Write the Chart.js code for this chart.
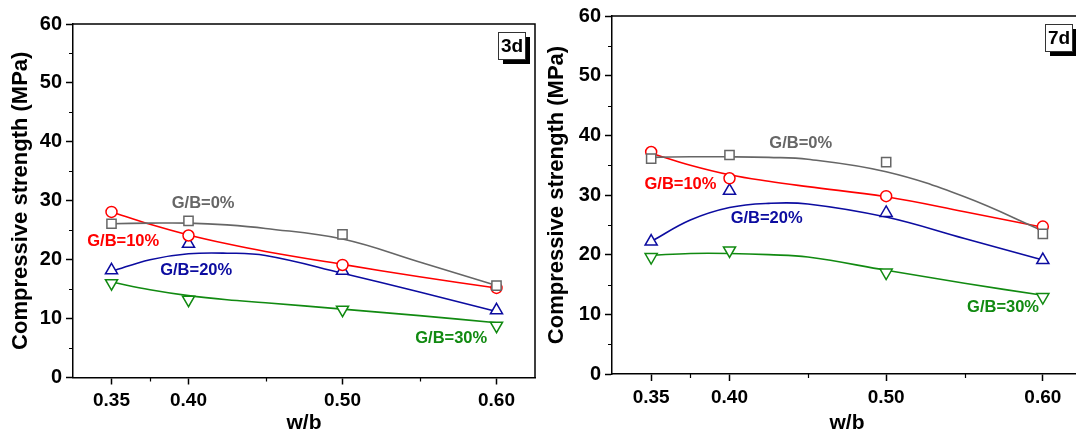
<!DOCTYPE html>
<html>
<head>
<meta charset="utf-8">
<script src="https://cdn.jsdelivr.net/npm/chart.js@4.4.1/dist/chart.umd.min.js"></script>
<style>
  html, body { margin: 0; padding: 0; background: #fff; overflow: hidden; }
  #wrap { position: relative; width: 1076px; height: 436px; overflow: hidden; }
  #c3 { position: absolute; left: 0; top: 0; }
  #c7 { position: absolute; left: 536px; top: 0; }
</style>
</head>
<body>
<div id="wrap">
  <canvas id="c3" width="536" height="436"></canvas>
  <canvas id="c7" width="548" height="436"></canvas>
</div>
<script>
// w/b ratios where the specimens were tested
const wb = [0.35, 0.40, 0.50, 0.60];
const fitX = [0.35, 0.375, 0.40, 0.425, 0.45, 0.50, 0.55, 0.60];
const xTicks = [0.35, 0.40, 0.50, 0.60];
const xMinor = [0.375, 0.45, 0.55];
const yMinor = [5, 15, 25, 35, 45, 55];
const series = ['G/B=0%', 'G/B=10%', 'G/B=20%', 'G/B=30%'];

// 3 d measured
const d3_gb0 = [26.1, 26.6, 24.3, 15.6];
const d3_gb10 = [28.1, 24.1, 19.1, 15.2];
const d3_gb20 = [18.2, 22.7, 18.1, 11.4];
const d3_gb30 = [16.0, 13.2, 11.5, 8.8];
// 3 d fitted curves
const d3_fit0 = [26.1, 26.2, 26.2, 25.9, 25.3, 23.5, 19.6, 15.6];
const d3_fit10 = [28.1, 26.0, 24.2, 22.7, 21.4, 19.2, 17.1, 15.2];
const d3_fit20 = [18.0, 20.0, 21.0, 21.1, 20.7, 17.7, 14.5, 11.2];
const d3_fit30 = [16.2, 14.9, 13.9, 13.2, 12.7, 11.6, 10.5, 9.3];

// 7 d measured
const d7_gb0 = [36.1, 36.7, 35.5, 23.5];
const d7_gb10 = [37.2, 32.8, 29.8, 24.7];
const d7_gb20 = [22.2, 30.7, 27.0, 19.1];
const d7_gb30 = [19.6, 20.7, 17.0, 12.9];
// 7 d fitted curves
const d7_fit0 = [36.3, 36.4, 36.4, 36.3, 36.0, 33.9, 29.7, 24.0];
const d7_fit10 = [37.0, 35.0, 33.4, 32.3, 31.4, 29.7, 27.2, 24.6];
const d7_fit20 = [22.2, 25.8, 27.9, 28.6, 28.5, 26.3, 22.7, 19.1];
const d7_fit30 = [19.9, 20.2, 20.2, 20.0, 19.6, 17.4, 15.2, 13.2];

const colors = ['#666666', '#ff0000', '#0c0ca0', '#118a11'];
const shapes = ['rect', 'circle', 'triangle', 'triangle'];
const rotations = [0, 0, 0, 180];
const radii = [6.5, 5.5, 7, 7];
const FONT = 'Arial, "Liberation Sans", sans-serif';

const extras = {
  id: 'extras',
  afterDatasetsDraw(chart, args, opts) {
    const ctx = chart.ctx;
    const xs = chart.scales.x, ys = chart.scales.y;
    ctx.save();
    ctx.font = 'bold 16.5px ' + FONT;
    ctx.textAlign = 'center';
    ctx.textBaseline = 'middle';
    opts.labels.forEach((l, i) => {
      ctx.fillStyle = colors[i];
      ctx.fillText(series[i], xs.getPixelForValue(l[0]), ys.getPixelForValue(l[1]));
    });
    ctx.restore();
  },
  afterDraw(chart, args, opts) {
    const ctx = chart.ctx;
    const a = chart.chartArea;
    const xs = chart.scales.x, ys = chart.scales.y;
    ctx.save();
    ctx.strokeStyle = '#000';
    ctx.lineWidth = 1.5;
    ctx.beginPath();
    ctx.moveTo(a.left, a.top);
    ctx.lineTo(a.right, a.top);
    ctx.lineTo(a.right, a.bottom);
    ctx.stroke();
    // minor ticks
    ctx.beginPath();
    xMinor.forEach(v => {
      const px = Math.round(xs.getPixelForValue(v)) + 0.5;
      ctx.moveTo(px, a.bottom);
      ctx.lineTo(px, a.bottom + 4);
    });
    yMinor.forEach(v => {
      const py = Math.round(ys.getPixelForValue(v)) + 0.5;
      ctx.moveTo(a.left - 4, py);
      ctx.lineTo(a.left, py);
    });
    ctx.lineWidth = 1.2;
    ctx.stroke();
    // day badge
    const s = 27;
    const bx = a.right - 10 - s, by = a.top + 8;
    ctx.fillStyle = '#000';
    ctx.fillRect(bx + 5, by + 5, s, s);
    ctx.fillStyle = '#fff';
    ctx.fillRect(bx, by, s, s);
    ctx.strokeStyle = '#333';
    ctx.lineWidth = 1;
    ctx.strokeRect(bx + 0.5, by + 0.5, s, s);
    ctx.fillStyle = '#000';
    ctx.font = 'bold 19px ' + FONT;
    ctx.textAlign = 'center';
    ctx.textBaseline = 'middle';
    ctx.fillText(opts.badge, bx + s / 2 + 0.5, by + s / 2 + 1);
    ctx.restore();
  }
};

function makeChart(id, marks, fits, labels, badge, pad, yWidth, xHeight) {
  const datasets = [];
  fits.forEach((f, i) => datasets.push({
    label: series[i] + ' fit',
    data: fitX.map((x, j) => ({x: x, y: f[j]})),
    borderColor: colors[i],
    borderWidth: 1.6,
    pointRadius: 0,
    tension: 0.4,
    fill: false,
    order: 10
  }));
  marks.forEach((m, i) => datasets.push({
    label: series[i],
    data: wb.map((x, j) => ({x: x, y: m[j]})),
    showLine: false,
    pointStyle: shapes[i],
    rotation: rotations[i],
    pointRadius: radii[i],
    pointBorderColor: colors[i],
    pointBackgroundColor: '#fff',
    pointBorderWidth: 1.5,
    order: i
  }));

  return new Chart(document.getElementById(id), {
    type: 'line',
    data: { datasets: datasets },
    plugins: [extras],
    options: {
      responsive: false,
      animation: false,
      layout: { padding: pad, autoPadding: false },
      plugins: {
        legend: { display: false },
        tooltip: { enabled: false },
        extras: { labels: labels, badge: badge }
      },
      scales: {
        x: {
          type: 'linear',
          min: 0.325,
          max: 0.625,
          afterBuildTicks: scale => { scale.ticks = xTicks.map(v => ({value: v})); },
          afterFit: scale => {
            scale.height = xHeight;
            scale.paddingLeft = 0;
            scale.paddingRight = 0;
          },
          grid: { drawOnChartArea: false, tickLength: 7, tickColor: '#000', tickWidth: 1.5 },
          border: { color: '#000', width: 1.5 },
          ticks: {
            color: '#000',
            padding: 5,
            maxRotation: 0,
            font: { family: FONT, size: 19, weight: 'bold' },
            callback: v => v.toFixed(2)
          },
          title: {
            display: true,
            text: 'w/b',
            color: '#000',
            padding: 0,
            font: { family: FONT, size: 21, weight: 'bold' }
          }
        },
        y: {
          min: 0,
          max: 60,
          afterFit: scale => { scale.width = yWidth; },
          grid: { drawOnChartArea: false, tickLength: 7, tickColor: '#000', tickWidth: 1.5 },
          border: { color: '#000', width: 1.5 },
          ticks: {
            stepSize: 10,
            color: '#000',
            padding: 4,
            font: { family: FONT, size: 20, weight: 'bold' }
          },
          title: {
            display: true,
            text: 'Compressive strength (MPa)',
            color: '#000',
            padding: { top: 8, bottom: 0 },
            font: { family: FONT, size: 22, weight: 'bold' }
          }
        }
      }
    }
  });
}

makeChart('c3',
  [d3_gb0, d3_gb10, d3_gb20, d3_gb30],
  [d3_fit0, d3_fit10, d3_fit20, d3_fit30],
  [[0.4095, 29.5], [0.3576, 23.1], [0.405, 18.1], [0.5706, 6.6]],
  '3d',
  { left: 0, top: 24, right: 1, bottom: 0 }, 73, 58.5);

makeChart('c7',
  [d7_gb0, d7_gb10, d7_gb20, d7_gb30],
  [d7_fit0, d7_fit10, d7_fit20, d7_fit30],
  [[0.4455, 38.7], [0.3687, 31.8], [0.4237, 26.1], [0.5746, 11.1]],
  '7d',
  { left: 0, top: 16, right: 2, bottom: 0 }, 76, 62);
</script>
</body>
</html>
